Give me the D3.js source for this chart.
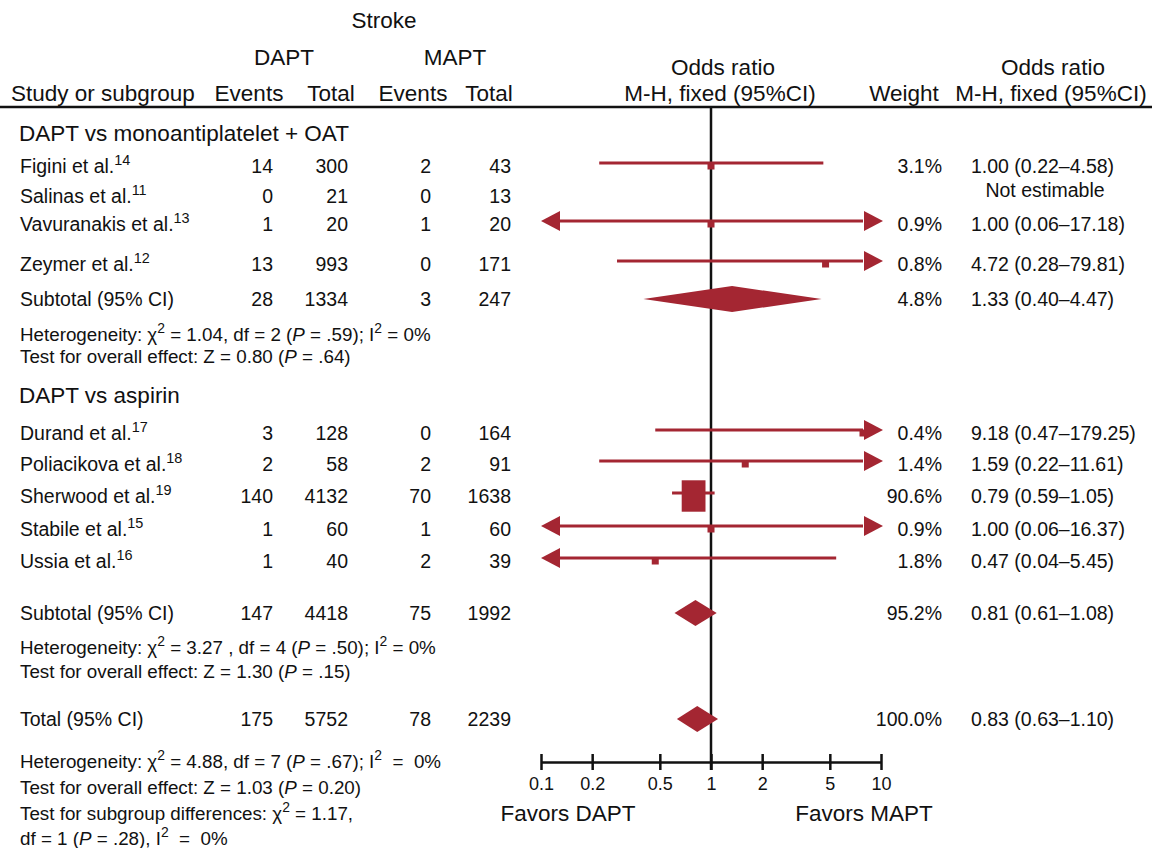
<!DOCTYPE html>
<html lang="en">
<head>
  <meta charset="UTF-8">
  <title>Stroke forest plot</title>
  <script src="https://cdnjs.cloudflare.com/ajax/libs/d3/7.8.5/d3.min.js"></script>
  <style>
    body { margin: 0; background: #fff; }
    svg text { font-family: "Liberation Sans", Arial, Helvetica, sans-serif; fill: #111; white-space: pre; }
    .hdr { font-size: 22.5px; }
    .row { font-size: 19.5px; }
    .note { font-size: 18.8px; }
    .title { font-size: 22.5px; }
  </style>
</head>
<body>
  <svg width="1152" height="848"></svg>
  <script>
    // studies
    var studies = ["Figini et al.", "Salinas et al.", "Vavuranakis et al.", "Zeymer et al.",
                   "Durand et al.", "Poliacikova et al.", "Sherwood et al.", "Stabile et al.", "Ussia et al."]
    var refs = ["14", "11", "13", "12", "17", "18", "19", "15", "16"]
    var daptEvents = [14, 0, 1, 13, 3, 2, 140, 1, 1]
    var daptTotal = [300, 21, 20, 993, 128, 58, 4132, 60, 40]
    var maptEvents = [2, 0, 1, 0, 0, 2, 70, 1, 2]
    var maptTotal = [43, 13, 20, 171, 164, 91, 1638, 60, 39]
    var weights = [3.1, null, 0.9, 0.8, 0.4, 1.4, 90.6, 0.9, 1.8]
    var orEst = [1.00, null, 1.00, 4.72, 9.18, 1.59, 0.79, 1.00, 0.47]
    var orLo = [0.22, null, 0.06, 0.28, 0.47, 0.22, 0.59, 0.06, 0.04]
    var orHi = [4.58, null, 17.18, 79.81, 179.25, 11.61, 1.05, 16.37, 5.45]

    // subtotals + total
    var sumLabels = ["Subtotal (95% CI)", "Subtotal (95% CI)", "Total (95% CI)"]
    var sumDaptEvents = [28, 147, 175]
    var sumDaptTotal = [1334, 4418, 5752]
    var sumMaptEvents = [3, 75, 78]
    var sumMaptTotal = [247, 1992, 2239]
    var sumWeight = [4.8, 95.2, 100.0]
    var sumOr = [1.33, 0.81, 0.83]
    var sumLo = [0.40, 0.61, 0.63]
    var sumHi = [4.47, 1.08, 1.10]

    var groupTitles = ["DAPT vs monoantiplatelet + OAT", "DAPT vs aspirin"]
    var tickValues = [0.1, 0.2, 0.5, 1, 2, 5, 10]
    var tickLabels = ["0.1", "0.2", "0.5", "1", "2", "5", "10"]

    // layout (row centres)
    var studyY = [166, 196, 224, 264, 433, 464, 496, 529, 561]
    var sumY = [299, 613, 719]
    var titleY = [133, 395]

    var red = "#a42632"
    var svg = d3.select("svg")
    var x = d3.scaleLog().domain([0.1, 10]).range([541, 881])
    var f2 = d3.format(".2f")
    var f1 = d3.format(".1f")

    function txt(cls, xx, yy, s, anchor) {
      return svg.append("text").attr("class", cls).attr("x", xx).attr("y", yy)
        .attr("dy", "0.35em").attr("text-anchor", anchor || "start").text(s)
    }

    // rich text: segments [text, italic, sup]
    function rich(cls, xx, yy, segs) {
      var t = svg.append("text").attr("class", cls).attr("x", xx).attr("y", yy).attr("dy", "0.35em")
      segs.forEach(function (s) {
        var ts = t.append("tspan").text(s[0])
        if (s[1]) ts.attr("font-style", "italic")
        if (s[2]) ts.attr("baseline-shift", "super").attr("font-size", "0.74em")
      })
      return t
    }

    // header
    txt("hdr", 384, 20, "Stroke", "middle")
    txt("hdr", 284, 57, "DAPT", "middle")
    txt("hdr", 455, 57, "MAPT", "middle")
    txt("hdr", 11, 93, "Study or subgroup")
    txt("hdr", 249, 93, "Events", "middle")
    txt("hdr", 331, 93, "Total", "middle")
    txt("hdr", 413, 93, "Events", "middle")
    txt("hdr", 489, 93, "Total", "middle")
    txt("hdr", 723, 67, "Odds ratio", "middle")
    txt("hdr", 720, 93, "M-H, fixed (95%CI)", "middle")
    txt("hdr", 904, 93, "Weight", "middle")
    txt("hdr", 1053, 67, "Odds ratio", "middle")
    txt("hdr", 1051, 93, "M-H, fixed (95%CI)", "middle")

    svg.append("line").attr("x1", 0).attr("x2", 1152).attr("y1", 107).attr("y2", 107)
      .attr("stroke", "#111").attr("stroke-width", 2.5)

    // reference line at OR = 1
    svg.append("line").attr("x1", x(1)).attr("x2", x(1)).attr("y1", 107).attr("y2", 770)
      .attr("stroke", "#111").attr("stroke-width", 2.5)

    groupTitles.forEach(function (g, i) { txt("title", 19, titleY[i], g) })

    // study rows
    studies.forEach(function (s, i) {
      var y = studyY[i]
      rich("row", 20, y, [[s], [refs[i], false, true]])
      txt("row", 273, y, daptEvents[i], "end")
      txt("row", 348, y, daptTotal[i], "end")
      txt("row", 431, y, maptEvents[i], "end")
      txt("row", 511, y, maptTotal[i], "end")
      if (weights[i] == null) {
        txt("row", 1045, y - 6, "Not estimable", "middle")
        return
      }
      txt("row", 942, y, f1(weights[i]) + "%", "end")
      txt("row", 971, y, f2(orEst[i]) + " (" + f2(orLo[i]) + "\u2013" + f2(orHi[i]) + ")")

      var ly = y - 3
      var lo = Math.max(orLo[i], 0.1), hi = Math.min(orHi[i], 10)
      var x1 = orLo[i] < 0.1 ? x(0.1) + 18 : x(lo)
      var x2 = orHi[i] > 10 ? x(10) - 18 : x(hi)
      svg.append("line").attr("x1", x1).attr("x2", x2).attr("y1", ly).attr("y2", ly)
        .attr("stroke", red).attr("stroke-width", 3)
      if (orLo[i] < 0.1) {
        svg.append("path").attr("fill", red)
          .attr("d", "M" + x(0.1) + "," + ly + "L" + (x(0.1) + 19) + "," + (ly - 10) + "L" + (x(0.1) + 19) + "," + (ly + 10) + "Z")
      }
      if (orHi[i] > 10) {
        svg.append("path").attr("fill", red)
          .attr("d", "M" + (x(10) + 2) + "," + ly + "L" + (x(10) - 17) + "," + (ly - 10) + "L" + (x(10) - 17) + "," + (ly + 10) + "Z")
      }
      var w = Math.max(7, 2.5 * Math.sqrt(weights[i]))
      var h = Math.max(7, 3.3 * Math.sqrt(weights[i]))
      var cx = Math.min(x(orEst[i]), x(10) - 18)
      svg.append("rect").attr("x", cx - w / 2).attr("y", y - h / 2).attr("width", w).attr("height", h)
        .attr("fill", red)
    })

    // subtotal / total rows
    sumLabels.forEach(function (s, i) {
      var y = sumY[i]
      txt("row", 20, y, s)
      txt("row", 273, y, sumDaptEvents[i], "end")
      txt("row", 348, y, sumDaptTotal[i], "end")
      txt("row", 431, y, sumMaptEvents[i], "end")
      txt("row", 511, y, sumMaptTotal[i], "end")
      txt("row", 942, y, f1(sumWeight[i]) + "%", "end")
      txt("row", 971, y, f2(sumOr[i]) + " (" + f2(sumLo[i]) + "\u2013" + f2(sumHi[i]) + ")")
      var hh = 13
      svg.append("path").attr("fill", red)
        .attr("d", "M" + x(sumLo[i]) + "," + y + "L" + x(sumOr[i]) + "," + (y - hh) +
          "L" + x(sumHi[i]) + "," + y + "L" + x(sumOr[i]) + "," + (y + hh) + "Z")
    })

    // heterogeneity notes
    rich("note", 20, 334, [["Heterogeneity: \u03c7"], ["2", false, true], [" = 1.04, df = 2 ("], ["P", true], [" = .59); I"], ["2", false, true], [" = 0%"]])
    rich("note", 20, 356, [["Test for overall effect: Z = 0.80 ("], ["P", true], [" = .64)"]])
    rich("note", 20, 647, [["Heterogeneity: \u03c7"], ["2", false, true], [" = 3.27 , df = 4 ("], ["P", true], [" = .50); I"], ["2", false, true], [" = 0%"]])
    rich("note", 20, 671, [["Test for overall effect: Z = 1.30 ("], ["P", true], [" = .15)"]])
    rich("note", 20, 761, [["Heterogeneity: \u03c7"], ["2", false, true], [" = 4.88, df = 7 ("], ["P", true], [" = .67); I"], ["2", false, true], ["  =  0%"]])
    rich("note", 20, 787, [["Test for overall effect: Z = 1.03 ("], ["P", true], [" = 0.20)"]])
    rich("note", 20, 813, [["Test for subgroup differences: \u03c7"], ["2", false, true], [" = 1.17,"]])
    rich("note", 20, 838, [["df = 1 ("], ["P", true], [" = .28), I"], ["2", false, true], ["  =  0%"]])

    // axis
    var axis = d3.axisBottom(x).tickValues(tickValues).tickSizeInner(8).tickSizeOuter(0)
      .tickFormat(function (d, i) { return tickLabels[i] })
    var ag = svg.append("g").attr("transform", "translate(0,762)").call(axis)
    ag.select(".domain").attr("stroke", "#111").attr("stroke-width", 2.5)
    ag.selectAll(".tick line").attr("y1", -8).attr("y2", 8).attr("stroke", "#111").attr("stroke-width", 2.5)
    ag.selectAll(".tick text").attr("y", 15).attr("font-size", "18px")
      .attr("font-family", "Liberation Sans, Arial, sans-serif").attr("fill", "#111")

    txt("hdr", 568, 813, "Favors DAPT", "middle")
    txt("hdr", 864, 813, "Favors MAPT", "middle")
  </script>
</body>
</html>
